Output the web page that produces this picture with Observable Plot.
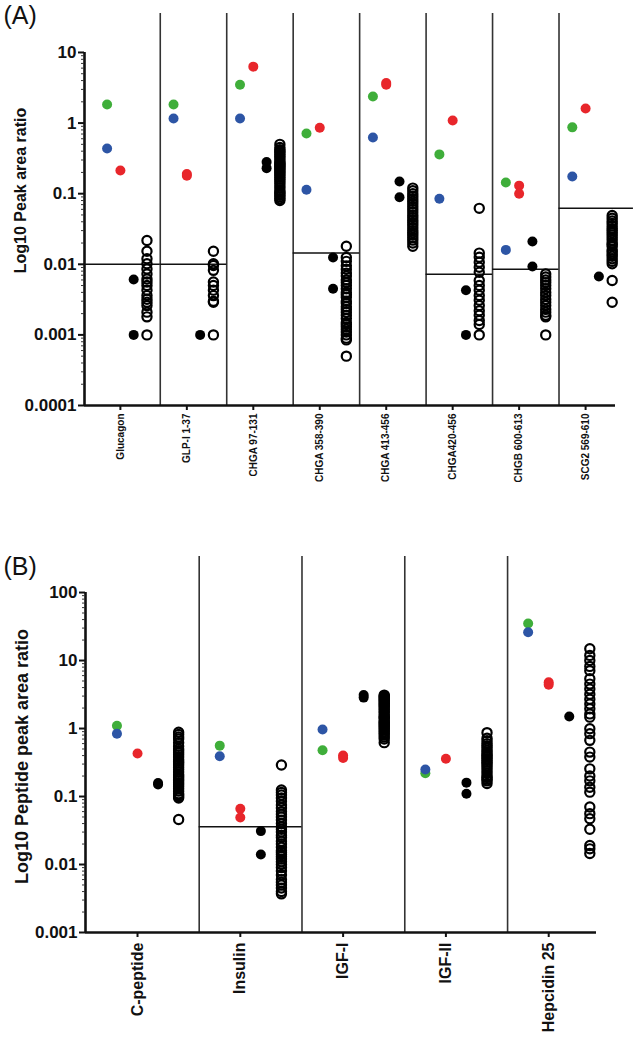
<!DOCTYPE html>
<html>
<head>
<meta charset="utf-8">
<script src="https://cdn.jsdelivr.net/npm/d3@7"></script>
<script src="https://cdn.jsdelivr.net/npm/@observablehq/plot@0.6"></script>
<style>
  html, body { margin: 0; padding: 0; background: #fff; }
  #wrap { width: 636px; }
  svg { display: block; }
</style>
</head>
<body>
<div id="wrap"></div>
<script>
// ---------- Panel A data ----------
const catsA = ["Glucagon", "GLP-I 1-37", "CHGA 97-131", "CHGA 358-390", "CHGA 413-456", "CHGA420-456", "CHGB 600-613", "SCG2 569-610"];
const greenA = [1.83, 1.83, 3.5, 0.71, 2.38, 0.36, 0.144, 0.87];
const blueA = [0.436, 1.16, 1.16, 0.114, 0.625, 0.085, 0.016, 0.175];
const redA = [[0.213], [0.19, 0.18], [6.3], [0.86], [3.7, 3.5], [1.09], [0.13, 0.10], [1.61]];
const filledA = [[0.0061, 0.001], [0.001], [0.28, 0.23], [0.0125, 0.0045], [0.149, 0.089], [0.0043, 0.001], [0.021, 0.0093], [0.0067]];
const openA = [
  [0.0217, 0.0153, 0.012, 0.0102, 0.0086, 0.0073, 0.0062, 0.0056, 0.005, 0.0043, 0.0036, 0.0032, 0.0029, 0.0026, 0.0021, 0.0018, 0.001],
  [0.0153, 0.0102, 0.0096, 0.0082, 0.0056, 0.005, 0.0043, 0.0036, 0.003, 0.0029, 0.001],
  [0.5, 0.45, 0.42, 0.4, 0.38, 0.36, 0.34, 0.32, 0.3, 0.28, 0.27, 0.26, 0.25, 0.24, 0.23, 0.22, 0.21, 0.2, 0.19, 0.18, 0.17, 0.16, 0.15, 0.14, 0.13, 0.12, 0.11, 0.105, 0.1, 0.095, 0.09, 0.085, 0.08],
  [0.018, 0.0125, 0.011, 0.0095, 0.0085, 0.0075, 0.0068, 0.006, 0.0055, 0.005, 0.0045, 0.004, 0.0037, 0.0034, 0.003, 0.0028, 0.0025, 0.0023, 0.0021, 0.0019, 0.0017, 0.0015, 0.0014, 0.0013, 0.0012, 0.0011, 0.001, 0.0009, 0.00085, 0.0005],
  [0.12, 0.11, 0.1, 0.092, 0.085, 0.078, 0.072, 0.066, 0.06, 0.055, 0.05, 0.046, 0.042, 0.039, 0.036, 0.033, 0.03, 0.028, 0.026, 0.024, 0.022, 0.02, 0.018],
  [0.062, 0.0144, 0.0126, 0.0107, 0.0091, 0.0077, 0.0059, 0.005, 0.0043, 0.0036, 0.0031, 0.0026, 0.0022, 0.0019, 0.0016, 0.0014, 0.001],
  [0.0073, 0.0066, 0.006, 0.0055, 0.005, 0.0045, 0.004, 0.0036, 0.0032, 0.0029, 0.0026, 0.0023, 0.0021, 0.0019, 0.0018, 0.001],
  [0.049, 0.045, 0.041, 0.038, 0.035, 0.032, 0.03, 0.028, 0.026, 0.024, 0.022, 0.02, 0.019, 0.018, 0.016, 0.015, 0.014, 0.013, 0.012, 0.011, 0.0102, 0.0059, 0.0029]
];
const threshA = [[0, 0.01], [1, 0.01], [3, 0.0145], [5, 0.0072], [6, 0.0085], [7, 0.062]];
const ticksA = [0.0001, 0.001, 0.01, 0.1, 1, 10];

// ---------- Panel B data ----------
const catsB = ["C-peptide", "Insulin", "IGF-I", "IGF-II", "Hepcidin 25"];
const greenB = [1.1, 0.56, 0.48, 0.22, 35];
const blueB = [0.84, 0.39, 0.97, 0.25, 26];
const redB = [[0.43], [0.066, 0.049], [0.40, 0.37], [0.36], [4.8, 4.4]];
const filledB = [[0.158, 0.15], [0.031, 0.014], [3.1, 2.85], [0.16, 0.11], [1.5]];
const openB = [
  [0.88, 0.82, 0.75, 0.7, 0.62, 0.55, 0.5, 0.47, 0.44, 0.41, 0.38, 0.35, 0.33, 0.31, 0.29, 0.27, 0.25, 0.23, 0.21, 0.2, 0.19, 0.18, 0.17, 0.16, 0.15, 0.14, 0.13, 0.12, 0.11, 0.105, 0.1, 0.095, 0.046],
  [0.29, 0.125, 0.115, 0.105, 0.095, 0.085, 0.075, 0.068, 0.06, 0.055, 0.05, 0.045, 0.04, 0.036, 0.033, 0.03, 0.027, 0.025, 0.022, 0.02, 0.018, 0.016, 0.015, 0.014, 0.013, 0.012, 0.011, 0.01, 0.009, 0.008, 0.007, 0.006, 0.0055, 0.005, 0.0045, 0.004, 0.0037],
  [3.1, 3.0, 2.9, 2.8, 2.7, 2.6, 2.5, 2.4, 2.3, 2.2, 2.1, 2.0, 1.9, 1.8, 1.7, 1.6, 1.5, 1.45, 1.4, 1.3, 1.25, 1.2, 1.15, 1.1, 1.05, 1.0, 0.95, 0.9, 0.85, 0.8, 0.75, 0.7, 0.62],
  [0.87, 0.72, 0.66, 0.6, 0.56, 0.52, 0.48, 0.45, 0.42, 0.4, 0.38, 0.36, 0.34, 0.32, 0.3, 0.28, 0.26, 0.24, 0.22, 0.2, 0.19, 0.18, 0.17, 0.155],
  [14.9, 11.9, 10, 8.2, 7.1, 5.4, 4.5, 3.8, 3.2, 2.7, 2.3, 1.95, 1.64, 1.47, 0.99, 0.84, 0.67, 0.45, 0.38, 0.255, 0.2, 0.17, 0.137, 0.116, 0.07, 0.056, 0.047, 0.033, 0.019, 0.017, 0.0145]
];
const threshB = [[1, 0.036]];
const ticksB = [0.001, 0.01, 0.1, 1, 10, 100];

// ---------- styling ----------
const FONT = "'Liberation Sans', Arial, Helvetica, sans-serif";
const GREEN = "#3fae3a", BLUE = "#2d55a5", RED = "#e8262b";
const OFF = {green: -0.2, blue: -0.2, red: 0, filled: 0.2, open: 0.4};

function minorTicks(lo, hi) {
  const out = [];
  for (let e = Math.round(Math.log10(lo)); e < Math.round(Math.log10(hi)); e++)
    for (let k = 2; k <= 9; k++) out.push(k * 10 ** e);
  return out;
}

function panel(cfg) {
  const {cats, green, blue, red, filled, open, thresh, ticks, xDomain, yTop,
         width, height, mt, mb, ml, mr, catFont, tickFont, ylabel, ylabelFont,
         ylabelDx, ylabelDy, letter, letterDx, letterDy, tickPad} = cfg;
  const n = cats.length;
  const colored = [];
  cats.forEach((c, i) => {
    colored.push({x: i + OFF.green, y: green[i], c: GREEN});
    colored.push({x: i + OFF.blue, y: blue[i], c: BLUE});
    red[i].forEach(v => colored.push({x: i + OFF.red, y: v, c: RED}));
  });
  const filledRows = cats.flatMap((c, i) => filled[i].map(v => ({x: i + OFF.filled, y: v})));
  const openRows = cats.flatMap((c, i) => open[i].map(v => ({x: i + OFF.open, y: v})));
  const seps = d3.range(n - 1).map(i => i + 0.6);
  const thr = thresh.map(([i, v]) => ({
    x1: i === 0 ? xDomain[0] : i - 0.4,
    x2: i === n - 1 ? i + 0.72 : i + 0.6,
    y: v
  }));
  const yMin = ticks[0], yMaxTick = ticks[ticks.length - 1];
  return Plot.plot({
    width, height,
    marginTop: mt, marginBottom: mb, marginLeft: ml, marginRight: mr,
    style: {fontFamily: FONT, background: "white", overflow: "visible"},
    x: {type: "linear", domain: xDomain},
    y: {type: "log", domain: [yMin, yTop]},
    marks: [
      Plot.ruleX(seps, {x: d => d, y1: yMin, y2: yTop, stroke: "#333", strokeWidth: 1.6}),
      Plot.ruleY(thr, {y: "y", x1: "x1", x2: "x2", stroke: "#111", strokeWidth: 1.5}),
      Plot.ruleX([xDomain[0]], {x: d => d, y1: yMin, y2: yMaxTick, stroke: "#111", strokeWidth: 2.6}),
      Plot.ruleY([yMin], {y: d => d, x1: xDomain[0], x2: xDomain[1], stroke: "#111", strokeWidth: 2.6}),
      Plot.axisY({ticks: minorTicks(yMin, yMaxTick), tickSize: 3, tickFormat: () => "", label: null, strokeWidth: 1, stroke: "#333"}),
      Plot.axisY({ticks, tickSize: 6, tickPadding: 2, tickFormat: d => String(d), label: null,
                  fontSize: tickFont, fontWeight: "bold", strokeWidth: 2, fill: "#111", stroke: "#111"}),
      Plot.axisX({ticks: d3.range(n), tickSize: 5, tickPadding: tickPad, tickRotate: -90,
                  tickFormat: i => cats[i], label: null, fontSize: catFont, fontWeight: "bold",
                  strokeWidth: 2, fill: "#111", stroke: "#111"}),
      Plot.text([ylabel], {frameAnchor: "left", dx: ylabelDx, dy: ylabelDy, rotate: -90,
                 textAnchor: "middle", lineAnchor: "middle",
                 text: d => d, fontSize: ylabelFont, fontWeight: "bold", fill: "#111"}),
      Plot.text([letter], {frameAnchor: "top-left", dx: letterDx, dy: letterDy, text: d => d,
                 textAnchor: "start", lineAnchor: "middle", fontSize: 25, fill: "#111"}),
      Plot.dot(colored, {x: "x", y: "y", r: 5, fill: "c", stroke: null}),
      Plot.dot(filledRows, {x: "x", y: "y", r: 5, fill: "#000", stroke: null}),
      Plot.dot(openRows, {x: "x", y: "y", r: 4.6, fill: "none", stroke: "#000", strokeWidth: 2.2})
    ]
  });
}

const wrap = document.getElementById("wrap");
wrap.appendChild(panel({
  cats: catsA, green: greenA, blue: blueA, red: redA, filled: filledA, open: openA,
  thresh: threshA, ticks: ticksA, xDomain: [-0.54, 7.45], yTop: 10 ** 1.552,
  width: 636, height: 490, mt: 13, mb: 85, ml: 84, mr: 21,
  catFont: 10, tickFont: 17, tickPad: 3,
  ylabel: "Log10 Peak area ratio", ylabelFont: 16, ylabelDx: -64, ylabelDy: -19,
  letter: "(A)", letterDx: -81, letterDy: 2
}));
wrap.appendChild(panel({
  cats: catsB, green: greenB, blue: blueB, red: redB, filled: filledB, open: openB,
  thresh: threshB, ticks: ticksB, xDomain: [-0.506, 4.465], yTop: 10 ** 2.53,
  width: 636, height: 551, mt: 66, mb: 109, ml: 85, mr: 40,
  catFont: 16, tickFont: 17, tickPad: 5,
  ylabel: "Log10 Peptide peak area ratio", ylabelFont: 18, ylabelDx: -63, ylabelDy: 12,
  letter: "(B)", letterDx: -82, letterDy: 10
}));
</script>
</body>
</html>
